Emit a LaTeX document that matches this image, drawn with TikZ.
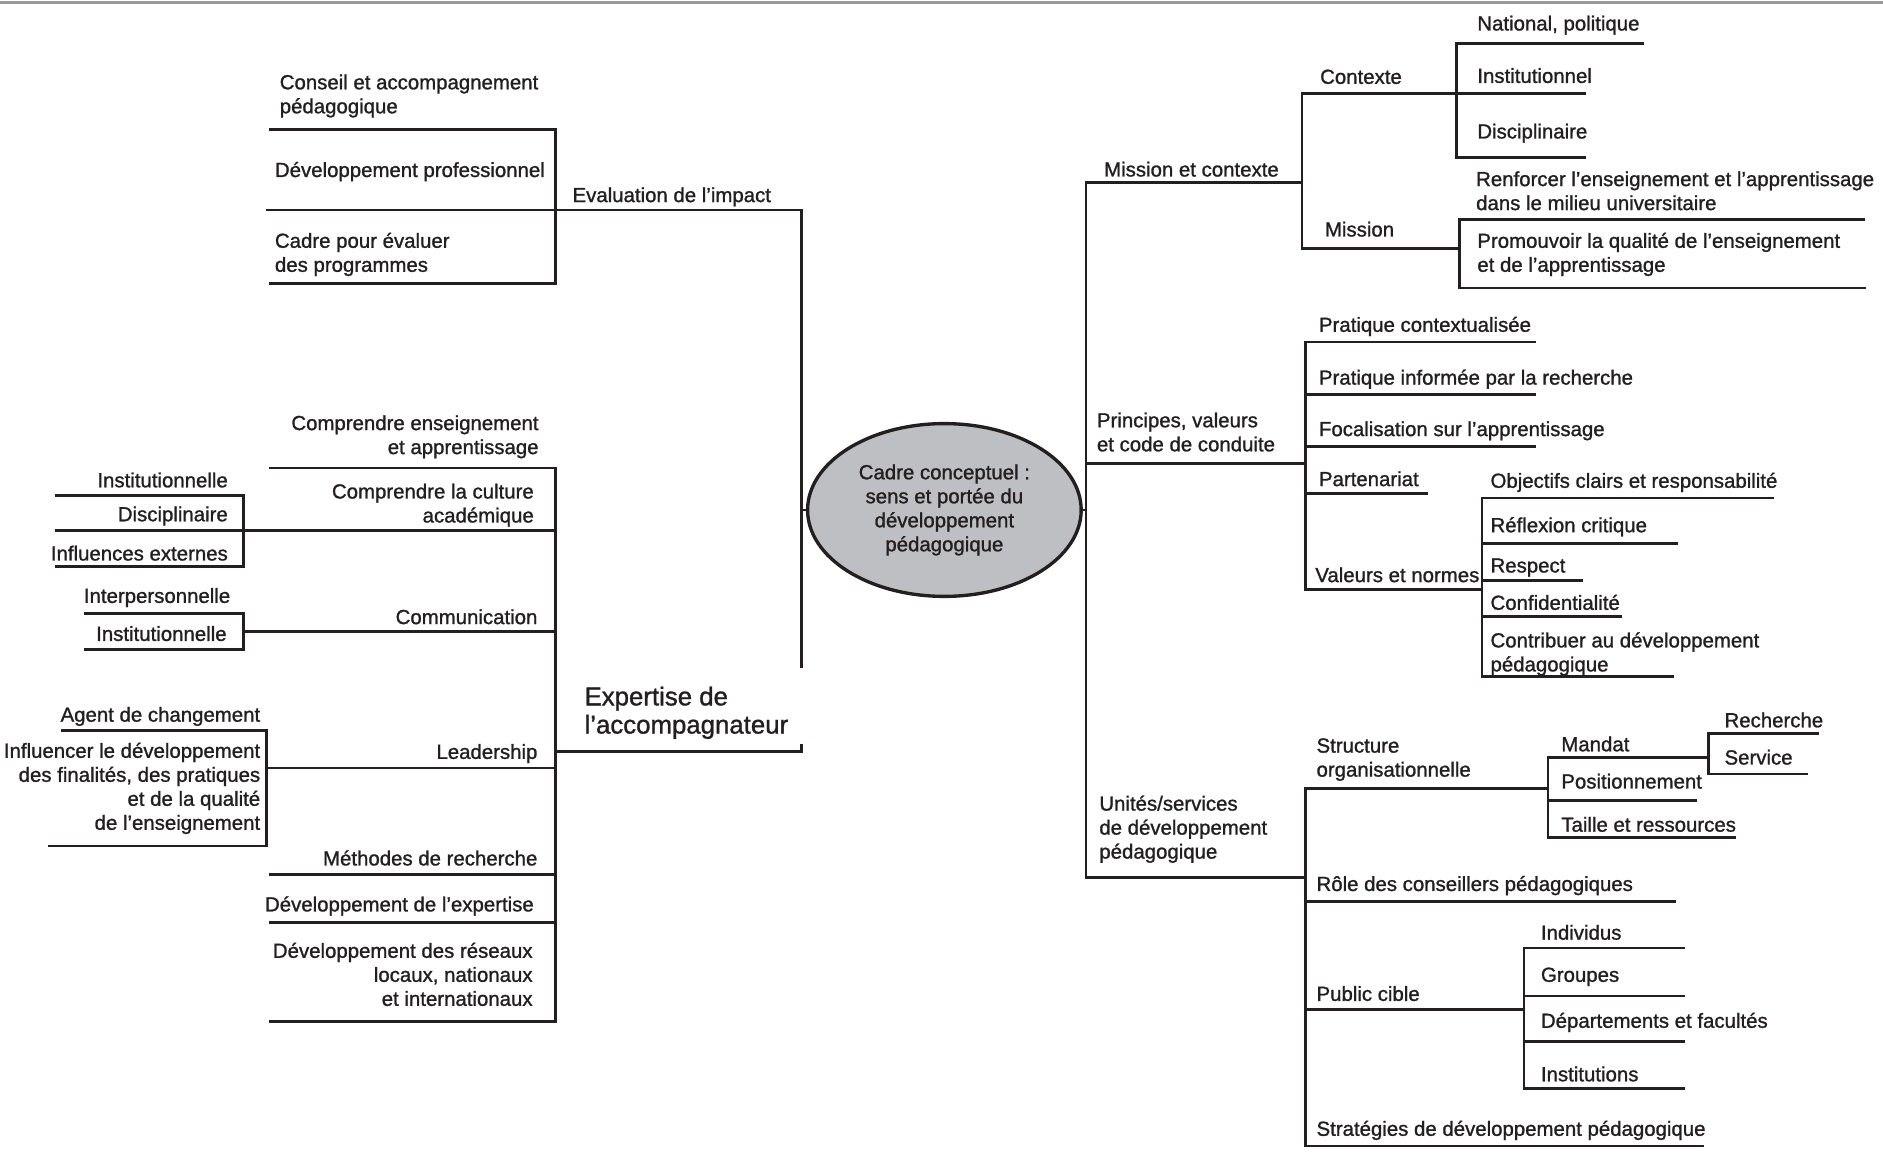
\documentclass[tikz,border=0pt]{standalone}
\usepackage{fontspec}
\setmainfont{Liberation Sans}[FakeBold=1.2]
\usetikzlibrary{shapes.geometric}
\definecolor{trait}{RGB}{35,31,32}
\definecolor{gris}{RGB}{190,191,194}
\tikzset{
  etiq/.style={inner sep=0pt, text=trait, yshift=-2pt, font=\fontsize{17}{20}\selectfont},
  gauche/.style={etiq, anchor=west, align=left},
  droite/.style={etiq, anchor=east, align=right},
  centre/.style={ellipse, draw=trait, line width=2.8pt, fill=gris, inner sep=0pt,
    minimum width=228pt, minimum height=144pt, align=center, text=trait,
    font=\fontsize{17}{20}\selectfont},
}
\begin{document}
\begin{tikzpicture}[x=1pt,y=-1pt,line width=2.3pt,draw=trait]
\useasboundingbox (0,0) rectangle (1569.2,972.5);

% filet du haut
\draw[gray!80,line width=2pt] (0,2) -- (1569.2,2);

% noeud central
\node[centre] (cadre) at (787,425) {Cadre conceptuel :\\sens et portée du\\développement\\pédagogique};
\draw (668,425) -- (cadre.west);
\draw (cadre.east) -- (905,425);

% tronc gauche
\draw (222,175) -- (668,175) -- (668,557);
\draw (463,626) -- (668,626) -- (668,620);

% évaluation de l'impact
\draw (224,108) -- (463,108) -- (463,236) -- (224,236);
\node[gauche] (conseil) at (232,78) {Conseil et accompagnement\\pédagogique};
\node[gauche] (devpro) at (228,141) {Développement professionnel};
\node[gauche] (evalprog) at (228,210) {Cadre pour évaluer\\des programmes};
\node[gauche] (evaluation) at (476,162) {Evaluation de l’impact};

% expertise de l'accompagnateur
\draw (224,390) -- (463,390) -- (463,851) -- (224,851);
\draw (46,442) -- (463,442);
\draw (203,526) -- (463,526);
\draw (222,640) -- (463,640);
\draw (224,729) -- (463,729);
\draw (224,769) -- (463,769);
\node[etiq,anchor=west,align=left,font=\fontsize{21.5}{23.5}\selectfont] (expertise) at (486,592) {Expertise de\\l’accompagnateur};
\node[droite] (comprens) at (450,362) {Comprendre enseignement\\et apprentissage};
\node[droite] (culture) at (446,419) {Comprendre la culture\\académique};
\node[droite] (communication) at (449,512) {Communication};
\node[droite] (leadership) at (449,626) {Leadership};
\node[droite] (methodes) at (449,713) {Méthodes de recherche};
\node[droite] (devexp) at (446,753) {Développement de l’expertise};
\node[droite] (reseaux) at (445,810) {Développement des réseaux\\locaux, nationaux\\et internationaux};

% culture académique
\draw (46,413) -- (203,413) -- (203,472) -- (46,472);
\foreach \y/\nom/\txt in {398/instcult/Institutionnelle, 428/discult/Disciplinaire, 459/influences/Influences externes}
  \node[droite] (\nom) at (191,\y) {\txt};

% communication
\draw (70,511) -- (203,511) -- (203,541) -- (70,541);
\node[droite] (interpers) at (193,496) {Interpersonnelle};
\node[droite] (instcomm) at (190,526) {Institutionnelle};

% leadership
\draw (51,609) -- (222,609) -- (222,705) -- (40,705);
\node[droite] (agent) at (218,595) {Agent de changement};
\node[droite] (influencer) at (218,655) {Influencer le développement\\des finalités, des pratiques\\et de la qualité\\de l’enseignement};

% tronc droit
\draw (1085,152) -- (905,152) -- (905,731) -- (1088,731);
\draw (905,386) -- (1088,386);

% mission et contexte
\node[gauche] (missctx) at (919,139) {Mission et contexte};
\draw (1085,78) -- (1322,78);
\draw (1214,78) -- (1085,78) -- (1085,207) -- (1216,207);
\node[gauche] (contexte) at (1099,62) {Contexte};
\node[gauche] (mission) at (1103,189) {Mission};
\draw (1370,36) -- (1214,36) -- (1214,131) -- (1322,131);
\foreach \y/\nom/\txt in {19/national/{National, politique}, 61/instctx/Institutionnel, 109/disctx/Disciplinaire}
  \node[gauche] (\nom) at (1230,\y) {\txt};
\draw (1554,183) -- (1216,183) -- (1216,240) -- (1555,240);
\node[gauche] (renforcer) at (1229,157) {Renforcer l’enseignement et l’apprentissage\\dans le milieu universitaire};
\node[gauche] (promouvoir) at (1230,210) {Promouvoir la qualité de l’enseignement\\et de l’apprentissage};

% principes, valeurs et code de conduite
\node[gauche] (principes) at (913,358) {Principes, valeurs\\et code de conduite};
\draw (1280,285) -- (1088,285) -- (1088,491) -- (1235,491);
\draw (1088,329) -- (1280,329);
\draw (1088,372) -- (1280,372);
\draw (1088,411) -- (1190,411);
\foreach \y/\nom/\txt in {270/pratctx/Pratique contextualisée, 314/pratinf/Pratique informée par la recherche, 357/focal/Focalisation sur l’apprentissage, 397/partenariat/Partenariat}
  \node[gauche] (\nom) at (1098,\y) {\txt};
\node[gauche] (valeurs) at (1095,477) {Valeurs et normes};

% valeurs et normes
\draw (1478,415) -- (1235,415) -- (1235,564) -- (1395,564);
\draw (1235,453) -- (1398,453);
\draw (1235,484) -- (1319,484);
\draw (1235,514) -- (1352,514);
\foreach \y/\nom/\txt in {400/objectifs/Objectifs clairs et responsabilité, 437/reflexion/Réflexion critique, 471/respect/Respect, 500/confid/Confidentialité}
  \node[gauche] (\nom) at (1241,\y) {\txt};
\node[gauche] (contribuer) at (1241,543) {Contribuer au développement\\pédagogique};

% unités/services de développement pédagogique
\node[gauche] (unites) at (915,689) {Unités/services\\de développement\\pédagogique};
\draw (1290,657) -- (1088,657) -- (1088,955) -- (1420,955);
\draw (1088,751) -- (1397,751);
\draw (1088,841) -- (1270,841);
\node[gauche] (structure) at (1096,631) {Structure\\organisationnelle};
\node[gauche] (role) at (1096,736) {Rôle des conseillers pédagogiques};
\node[gauche] (public) at (1096,826) {Public cible};
\node[gauche] (strategies) at (1096,940) {Stratégies de développement pédagogique};

% structure organisationnelle
\draw (1424,631) -- (1290,631) -- (1290,698) -- (1447,698);
\draw (1290,667) -- (1414,667);
\foreach \y/\nom/\txt in {618/mandat/Mandat, 649/position/Positionnement, 685/taille/Taille et ressources}
  \node[gauche] (\nom) at (1300,\y) {\txt};
\draw (1516,611) -- (1424,611) -- (1424,645) -- (1507,645);
\node[gauche] (recherche) at (1436,598) {Recherche};
\node[gauche] (service) at (1436,629) {Service};

% public cible
\draw (1404,790) -- (1270,790) -- (1270,907) -- (1404,907);
\draw (1270,830) -- (1404,830);
\draw (1270,868) -- (1404,868);
\foreach \y/\nom/\txt in {775/individus/Individus, 812/groupes/Groupes, 850/departements/Départements et facultés, 893/institutions/Institutions}
  \node[gauche] (\nom) at (1283,\y) {\txt};

\end{tikzpicture}
\end{document}
